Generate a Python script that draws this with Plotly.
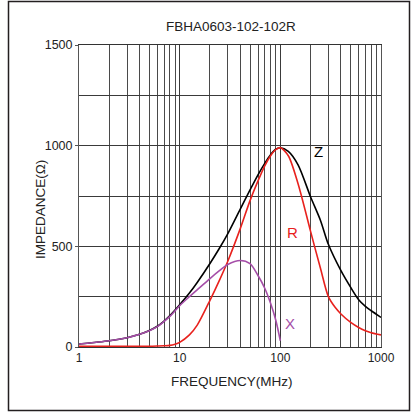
import math
import plotly.graph_objects as go

# ---- data ----
freq_z = [1, 2, 3, 4, 5, 6, 7, 8, 10, 12.5, 15, 20, 25, 30, 40, 50, 60, 70, 80, 90, 100, 120, 150, 200, 250, 300, 400, 500, 600, 700, 800, 1000]
imp_z = [15, 31, 46, 63, 82, 103, 129, 156, 210, 268, 322, 415, 493, 562, 685, 780, 855, 912, 955, 982, 990, 972, 905, 745, 630, 510, 379, 296, 235, 202, 180, 147]

freq_r = [1, 2, 3, 4, 5, 6, 7, 8, 9, 10, 12.5, 15, 20, 25, 30, 40, 50, 60, 70, 80, 90, 100, 120, 150, 200, 250, 300, 350, 400, 500, 600, 700, 800, 1000]
imp_r = [4, 4, 4, 4, 4, 5, 6, 8, 14, 23, 60, 110, 232, 335, 425, 588, 727, 825, 900, 950, 980, 990, 950, 811, 573, 392, 250, 197, 164, 122, 97, 81, 71, 60]

freq_x = [1, 2, 3, 4, 5, 6, 7, 8, 10, 12.5, 15, 20, 25, 30, 40, 50, 60, 70, 80, 90, 100]
imp_x = [15, 31, 46, 63, 81, 101, 127, 152, 205, 250, 285, 340, 380, 410, 430, 414, 355, 292, 217, 134, 31]

series_names = ["Z", "R", "X"]
series_colors = ["#000000", "#e8211d", "#a54ea8"]
label_pos_f = [240, 132, 124]
label_pos_v = [969, 571, 119]

x_tickvals = [1, 10, 100, 1000]
x_ticktext = ["1", "10", "100", "1000"]
y_tickvals = [0, 500, 1000, 1500]
y_ticktext = ["0", "500", "1000", "1500"]

title_text = "FBHA0603-102-102R"
x_title = "FREQUENCY(MHz)"
y_title = "IMPEDANCE(Ω)"

W, H = 411, 414
L, R, T, B = 79, 30, 45, 67

fig = go.Figure()
for fx, vy, name, col in zip([freq_z, freq_r, freq_x], [imp_z, imp_r, imp_x], series_names, series_colors):
    fig.add_trace(go.Scatter(x=fx, y=vy, mode="lines", name=name,
                             line=dict(color=col, width=1.6, shape="spline", smoothing=0.8),
                             showlegend=False, hoverinfo="skip"))

narrow = "Liberation Sans Narrow, Arial Narrow, Liberation Sans, Arial, sans-serif"
regular = "Liberation Sans, Arial, sans-serif"
for name, col, fx, vy in zip(series_names, series_colors, label_pos_f, label_pos_v):
    fig.add_annotation(x=math.log10(fx), y=vy, xref="x", yref="y", text=name, showarrow=False,
                       font=dict(family=narrow, size=15, color=col),
                       xanchor="center", yanchor="middle")

pw = W - L - R
ph = H - T - B

def px_to_paper_x(px):
    return (px - L) / pw

def px_to_paper_y(py):
    return (H - B - py) / ph

fig.add_annotation(x=px_to_paper_x(231), y=px_to_paper_y(27), xref="paper", yref="paper",
                   text=title_text, showarrow=False,
                   font=dict(family=regular, size=13.5, color="#222"),
                   xanchor="center", yanchor="middle")
fig.add_annotation(x=px_to_paper_x(232), y=px_to_paper_y(381), xref="paper", yref="paper",
                   text=x_title, showarrow=False,
                   font=dict(family=regular, size=13.5, color="#222"),
                   xanchor="center", yanchor="middle")
fig.add_annotation(x=px_to_paper_x(40), y=px_to_paper_y(210), xref="paper", yref="paper",
                   text=y_title, showarrow=False, textangle=-90,
                   font=dict(family=narrow, size=13.5, color="#222"),
                   xanchor="center", yanchor="middle")

# outer frame
fig.add_shape(type="rect", xref="paper", yref="paper",
              x0=px_to_paper_x(8.5), x1=px_to_paper_x(409.5), y0=px_to_paper_y(410.5), y1=px_to_paper_y(1.5),
              line=dict(color="#231f20", width=1.5), fillcolor="rgba(0,0,0,0)", layer="above")

fig.update_xaxes(type="log", range=[0, 3], tickvals=x_tickvals, ticktext=x_ticktext,
                 showgrid=True, gridcolor="#3a3a3a", gridwidth=1,
                 minor=dict(dtick="D1", showgrid=True, gridcolor="#4a4a4a", gridwidth=1, ticks=""),
                 showline=True, mirror=True, linecolor="#333", linewidth=1,
                 ticks="", tickfont=dict(family=regular, size=12, color="#222"),
                 zeroline=False, fixedrange=True)
fig.update_yaxes(range=[0, 1500], tickvals=y_tickvals, ticktext=y_ticktext,
                 showgrid=True, gridcolor="#3a3a3a", gridwidth=1,
                 minor=dict(dtick=250, showgrid=True, gridcolor="#3a3a3a", gridwidth=1, ticks=""),
                 showline=True, mirror=True, linecolor="#555", linewidth=1,
                 ticks="outside", ticklen=3, tickcolor="#555",
                 tickfont=dict(family=regular, size=12.5, color="#222"),
                 zeroline=False, fixedrange=True)

fig.update_layout(width=W, height=H, autosize=False,
                  margin=dict(l=L, r=R, t=T, b=B, pad=0),
                  paper_bgcolor="white", plot_bgcolor="white")

fig.write_html("out.html", config={"displayModeBar": False},
               post_script="document.body.style.margin='0';document.body.style.overflow='hidden';")
